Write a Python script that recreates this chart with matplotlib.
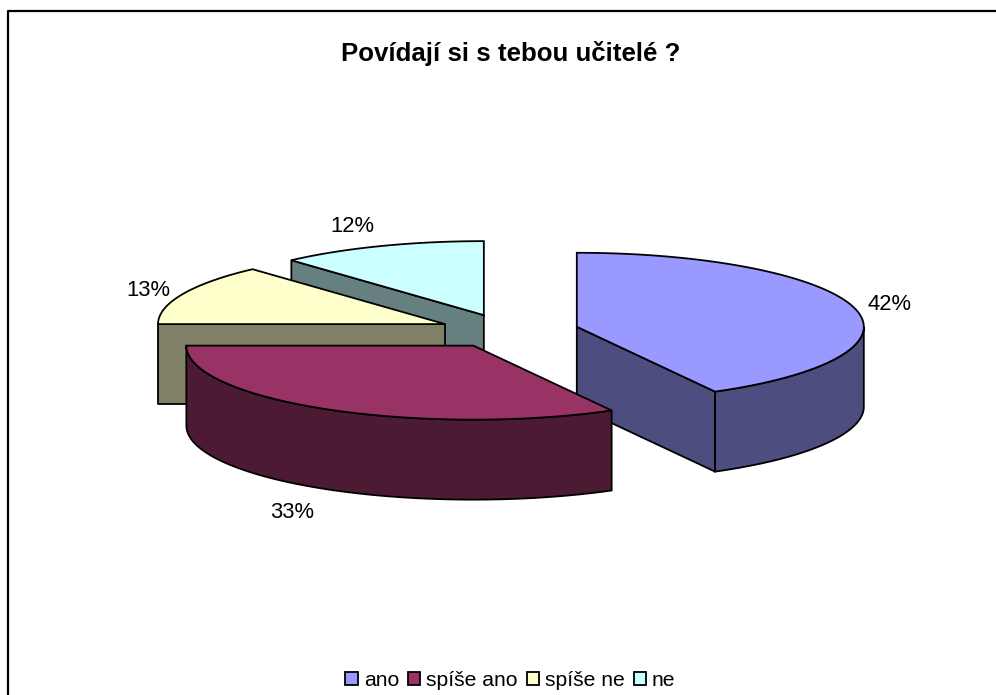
import matplotlib
matplotlib.use('Agg')
import matplotlib.pyplot as plt
from matplotlib.patches import Polygon, Patch
import numpy as np

title = 'Povídají si s tebou učitelé ?'
categories = ['ano', 'spíše ano', 'spíše ne', 'ne']
values = [42, 33, 13.3, 11.7]
colors = ['#9999FF', '#993366', '#FFFFCC', '#CCFFFF']

# pie geometry in pixels
cx, cy = 509, 331
rx, ry = 287, 74
depth = 80
ex, ey = 70, 17
label_pos = [(890, 304), (292, 512), (148, 290), (352, 227)]

plt.rcParams['font.family'] = ['Liberation Sans', 'DejaVu Sans']

fig = plt.figure(figsize=(9.96, 6.95), dpi=100)
ax = fig.add_axes([0, 0, 1, 1])
ax.set_xlim(0, 996)
ax.set_ylim(695, 0)
ax.axis('off')

# border, only top and left are in the picture
ax.plot([7.5, 7.5, 996], [695, 10.5, 10.5], color='black', lw=1.6, solid_capstyle='butt')

def rim(ox, oy, a0, a1, dy=0):
    t = np.radians(np.linspace(a0, a1, 120))
    return np.column_stack((ox + rx * np.sin(t), oy - ry * np.cos(t) + dy))

def shade(c):
    return tuple(0.5 * v for v in matplotlib.colors.to_rgb(c))

angles = 360 * np.cumsum([0] + values) / sum(values)

def draw_slice(i):
    a0, a1 = angles[i], angles[i + 1]
    mid = np.radians((a0 + a1) / 2)
    ox = cx + ex * np.sin(mid)
    oy = cy - ey * np.cos(mid)
    side = shade(colors[i])
    # flat cut walls that face the viewer
    for a, show in ((a0, np.sin(np.radians(a0)) < -1e-6), (a1, np.sin(np.radians(a1)) > 1e-6)):
        if show:
            p = rim(ox, oy, a, a)[0]
            wall = [(ox, oy), tuple(p), (p[0], p[1] + depth), (ox, oy + depth)]
            ax.add_patch(Polygon(wall, closed=True, fc=side, ec='black', lw=1.3, joinstyle='round'))
    # round wall, front half only
    f0, f1 = max(a0, 90), min(a1, 270)
    if f1 > f0:
        top = rim(ox, oy, f0, f1)
        bot = rim(ox, oy, f0, f1, depth)[::-1]
        ax.add_patch(Polygon(np.vstack((top, bot)), closed=True, fc=side, ec='black', lw=1.3))
    face = np.vstack(([(ox, oy)], rim(ox, oy, a0, a1)))
    ax.add_patch(Polygon(face, closed=True, fc=colors[i], ec='black', lw=1.3))

# back slices first
for i in [3, 2, 0, 1]:
    draw_slice(i)

for v, (x, y) in zip(values, label_pos):
    ax.text(x, y, '%.0f%%' % v, fontsize=15.8, ha='center', va='center', color='black')

ax.text(510.5, 54, title, fontsize=18.6, fontweight='bold', ha='center', va='center', color='black')

handles = [Patch(fc=c, ec='black', lw=1.3) for c in colors]
ax.legend(handles, categories, loc='center', bbox_to_anchor=(510.5, 680), bbox_transform=ax.transData,
          ncol=4, frameon=False, fontsize=15.2, handlelength=0.57, handleheight=0.57,
          handletextpad=0.3, columnspacing=0.42, borderpad=0, labelcolor='black')

fig.savefig('out.png', dpi=100)
